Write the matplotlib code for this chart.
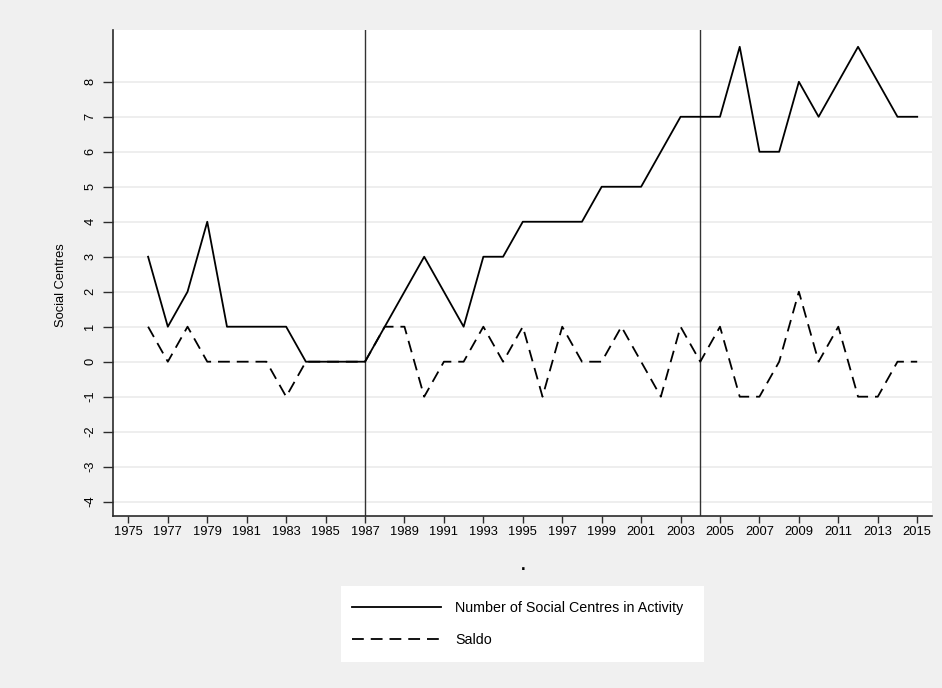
import matplotlib
matplotlib.use("Agg")
import matplotlib.pyplot as plt
from matplotlib.patches import Rectangle

plt.rcParams["font.family"] = ["Liberation Sans", "DejaVu Sans"]
plt.rcParams["font.size"] = 9
plt.rcParams["lines.scale_dashes"] = False
plt.rcParams["axes.unicode_minus"] = False

years = list(range(1976, 2016))
centres = [3, 1, 2, 4, 1, 1, 1, 1, 0, 0, 0, 0, 1, 2, 3, 2, 1, 3, 3, 4,
           4, 4, 4, 5, 5, 5, 6, 7, 7, 7, 9, 6, 6, 8, 7, 8, 9, 8, 7, 7]
saldo = [1, 0, 1, 0, 0, 0, 0, -1, 0, 0, 0, 0, 1, 1, -1, 0, 0, 1, 0, 1,
         -1, 1, 0, 0, 1, 0, -1, 1, 0, 1, -1, -1, 0, 2, 0, 1, -1, -1, 0, 0]
break_years = [1987, 2004]
x_ticks = list(range(1975, 2016, 2))
y_ticks = list(range(-4, 9))

bg = "#f0f0f0"
ink = "#2b2b2b"

fig = plt.figure(figsize=(9.42, 6.88), dpi=100)
fig.patch.set_facecolor(bg)
ax = fig.add_axes([113 / 942, 1 - 516 / 688, (932 - 113) / 942, (516 - 30) / 688])
ax.set_facecolor("white")

for y in y_ticks:
    ax.axhline(y, color="#e9e9e9", linewidth=1.1, zorder=0)
for yr in break_years:
    ax.axvline(yr, color="#333333", linewidth=1.0, zorder=1)

ax.plot(years, centres, color="black", linewidth=1.3,
        label="Number of Social Centres in Activity", zorder=3)
(dash_line,) = ax.plot(years, saldo, color="black", linewidth=1.3,
                       label="Saldo", zorder=3)
dash_line.set_dashes((8.5, 5.0))

ax.set_xlim(1974.22, 2015.75)
ax.set_ylim(-4.41, 9.48)
ax.set_xticks(x_ticks)
ax.set_yticks(y_ticks)
ax.tick_params(axis="both", direction="out", length=7, width=1.0, color=ink,
               labelsize=9.3, labelcolor="black")
ax.tick_params(axis="x", pad=2, length=5)
ax.tick_params(axis="y", pad=5)
for lab in ax.get_yticklabels():
    lab.set_rotation(90)
    lab.set_va("center")

for side in ["top", "right"]:
    ax.spines[side].set_visible(False)
for side in ["left", "bottom"]:
    ax.spines[side].set_color(ink)
    ax.spines[side].set_linewidth(1.2)

ax.set_ylabel("Social Centres", fontsize=9.3)
ax.yaxis.set_label_coords(-0.056, (516 - 285) / (516 - 30))
fig.text(523 / 942, 1 - 566 / 688, ".", ha="center", va="center",
         fontsize=12, fontweight="bold")

# legend box
fig.patches.append(Rectangle((341 / 942, 1 - 662 / 688), (704 - 341) / 942, (662 - 586) / 688,
                             transform=fig.transFigure, facecolor="white",
                             edgecolor="none", zorder=0))
handles, labels = ax.get_legend_handles_labels()
fig.legend(handles, labels, loc="center left",
           bbox_to_anchor=(339 / 942, 1 - 624 / 688), frameon=False,
           handlelength=6.2, handletextpad=1.0, labelspacing=1.3, fontsize=10.3)

fig.savefig("out.png", dpi=100, facecolor=bg)
